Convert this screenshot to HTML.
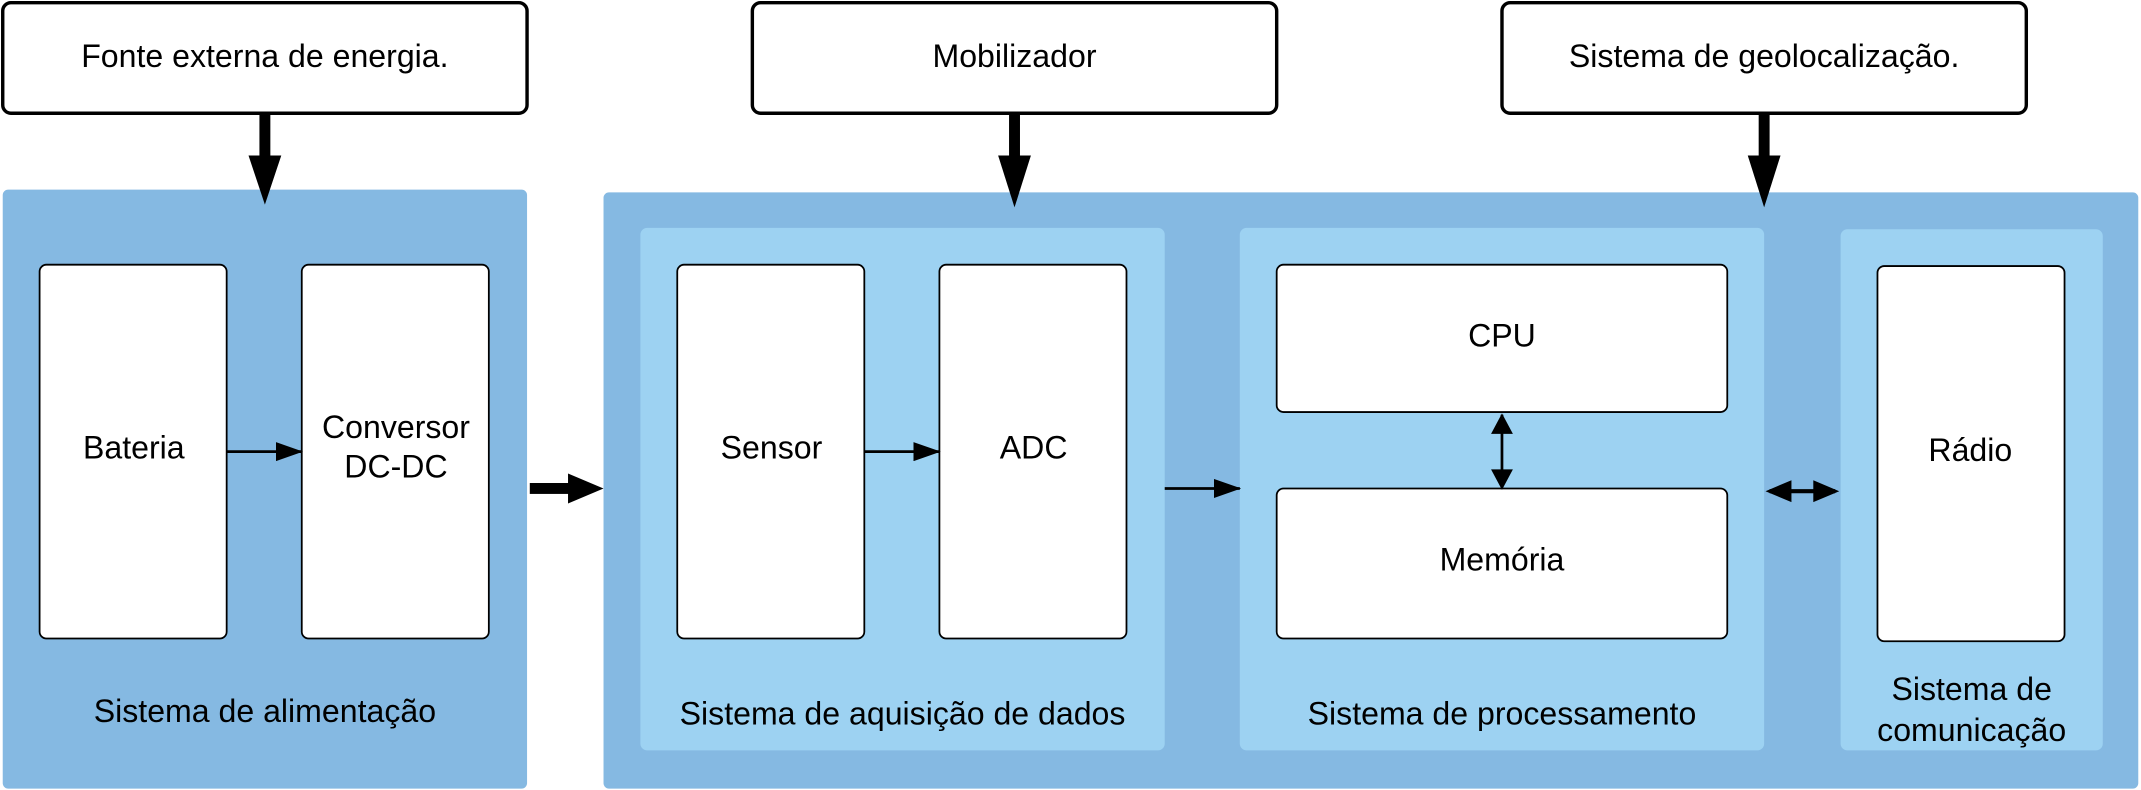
<!DOCTYPE html>
<html><head><meta charset="utf-8"><style>
html,body{margin:0;padding:0;background:#fff;}
svg{display:block;}
text{font-family:"Liberation Sans",sans-serif;font-size:23.5px;fill:#000;text-anchor:middle;}
</style></head><body>
<svg width="2141" height="790" viewBox="0 0 1568 579" preserveAspectRatio="none" xmlns="http://www.w3.org/2000/svg">
<defs>
<marker id="ah" markerWidth="20" markerHeight="14" refX="19" refY="7" orient="auto" markerUnits="userSpaceOnUse" viewBox="0 0 20 14"><path d="M0,0 L20,7 L0,14 z" fill="#000"/></marker>
</defs>
<rect x="2" y="2" width="384" height="81" rx="6" fill="#fff" stroke="#000" stroke-width="2.5"/>
<text x="194" y="49">Fonte externa de energia.</text>
<rect x="551" y="2" width="384" height="81" rx="6" fill="#fff" stroke="#000" stroke-width="2.5"/>
<text x="743" y="49">Mobilizador</text>
<rect x="1100" y="2" width="384" height="81" rx="6" fill="#fff" stroke="#000" stroke-width="2.5"/>
<text x="1292" y="49">Sistema de geolocalização.</text>
<rect x="2" y="139" width="384" height="439" rx="4" fill="#85b9e2"/>
<rect x="442" y="141" width="1124" height="437" rx="4" fill="#85b9e2"/>
<rect x="469" y="167" width="384" height="383" rx="5" fill="#9dd2f2"/>
<rect x="908" y="167" width="384" height="383" rx="5" fill="#9dd2f2"/>
<rect x="1348" y="168" width="192" height="382" rx="5" fill="#9dd2f2"/>
<rect x="190" y="83" width="8" height="32" fill="#000"/><path d="M182,114 L206,114 L194,150 z" fill="#000"/>
<rect x="739" y="83" width="8" height="32" fill="#000"/><path d="M731,114 L755,114 L743,152 z" fill="#000"/>
<rect x="1288" y="83" width="8" height="32" fill="#000"/><path d="M1280,114 L1304,114 L1292,152 z" fill="#000"/>
<g fill="#fff" stroke="#000" stroke-width="1.3">
<rect x="29" y="194" width="137" height="274" rx="5"/>
<rect x="221" y="194" width="137" height="274" rx="5"/>
<rect x="496" y="194" width="137" height="274" rx="5"/>
<rect x="688" y="194" width="137" height="274" rx="5"/>
<rect x="935" y="194" width="330" height="108" rx="5"/>
<rect x="935" y="358" width="330" height="110" rx="5"/>
<rect x="1375" y="195" width="137" height="275" rx="5"/>
</g>
<text x="98" y="336">Bateria</text>
<text x="290" y="321">Conversor</text>
<text x="290" y="350">DC-DC</text>
<text x="565" y="336">Sensor</text>
<text x="757" y="336">ADC</text>
<text x="1100" y="254">CPU</text>
<text x="1100" y="418">Memória</text>
<text x="1443" y="338">Rádio</text>
<text x="194" y="529">Sistema de alimentação</text>
<text x="661" y="531">Sistema de aquisição de dados</text>
<text x="1100" y="531">Sistema de processamento</text>
<text x="1444" y="513">Sistema de</text>
<text x="1444" y="543">comunicação</text>
<line x1="166" y1="331" x2="221" y2="331" stroke="#000" stroke-width="2" marker-end="url(#ah)"/>
<line x1="633" y1="331" x2="688" y2="331" stroke="#000" stroke-width="2" marker-end="url(#ah)"/>
<line x1="853" y1="358" x2="908" y2="358" stroke="#000" stroke-width="2" marker-end="url(#ah)"/>
<rect x="388" y="354" width="30" height="8" fill="#000"/><path d="M416,347 L442,358 L416,369 z" fill="#000"/>
<line x1="1100" y1="304" x2="1100" y2="356" stroke="#000" stroke-width="2"/>
<path d="M1092,318 L1108,318 L1100,303 z M1092,344 L1108,344 L1100,359 z" fill="#000"/>
<line x1="1296" y1="360" x2="1344" y2="360" stroke="#000" stroke-width="3"/>
<path d="M1312,352 L1312,368 L1293,360 z M1328,352 L1328,368 L1347,360 z" fill="#000"/>
</svg>
</body></html>
